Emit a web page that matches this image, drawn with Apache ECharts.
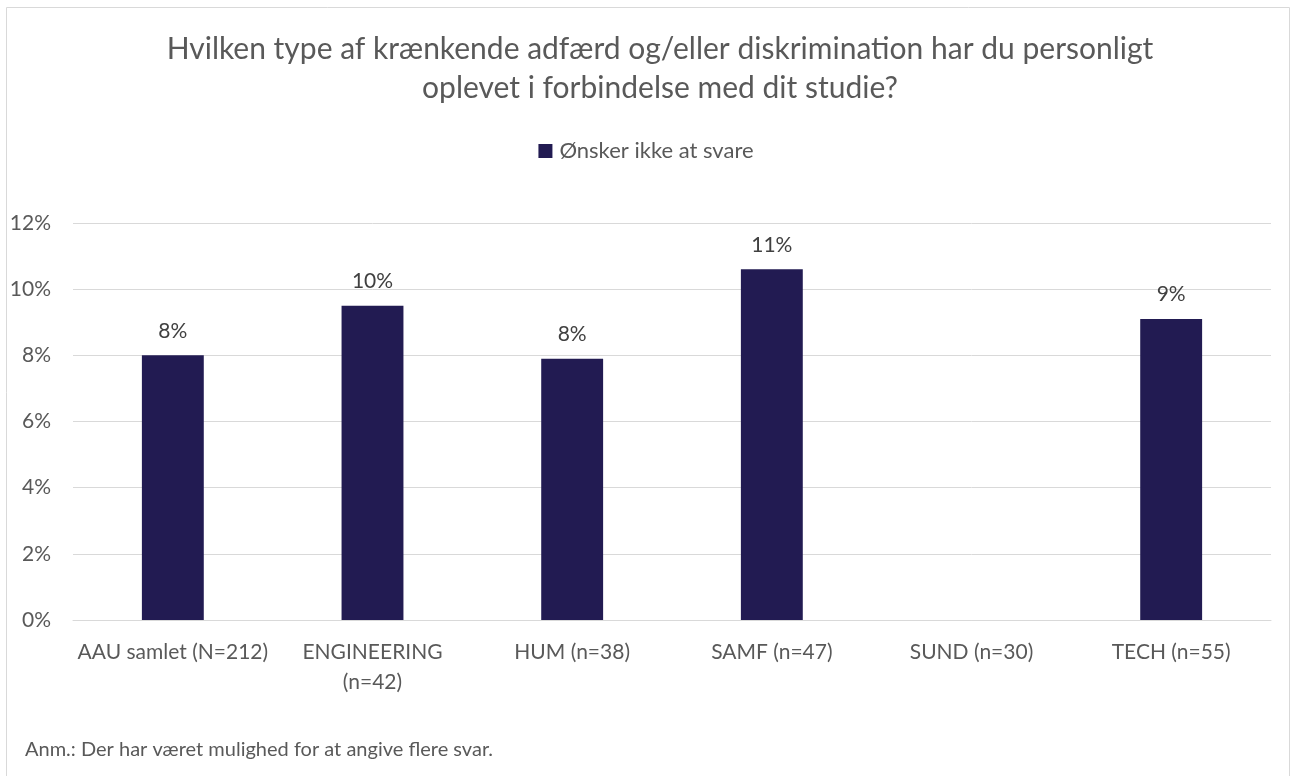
<!DOCTYPE html>
<html>
<head>
<meta charset="utf-8">
<script src="https://cdn.jsdelivr.net/npm/echarts@6/dist/echarts.min.js"></script>
<style>
  html, body { margin: 0; padding: 0; background: #fff; }
  #container { width: 1292px; height: 776px; }
</style>
</head>
<body>
<div id="container"></div>
<script>
// data
const categories = ['AAU samlet (N=212)', 'ENGINEERING\n(n=42)', 'HUM (n=38)', 'SAMF (n=47)', 'SUND (n=30)', 'TECH (n=55)'];
const seriesName = 'Ønsker ikke at svare';
const values = [8.0, 9.5, 7.9, 10.6, 0, 9.1]; // procent
const yTicks = [0, 2, 4, 6, 8, 10, 12];

const font = 'Lato, "Open Sans", sans-serif';
const grey = '#595959';

const dom = document.getElementById('container');
const myChart = echarts.init(dom);

const option = {
    animation: false,
    color: ['#221b52'],
    title: [
        {
            text: 'Hvilken type af krænkende adfærd og/eller diskrimination har du personligt\noplevet i forbindelse med dit studie?',
            left: 655,
            top: 25,
            textAlign: 'center',
            textStyle: { fontFamily: font, fontSize: 30, fontWeight: 'normal', color: grey, lineHeight: 39 }
        },
        {
            text: 'Anm.: Der har været mulighed for at angive flere svar.',
            left: 20,
            top: 735,
            textStyle: { fontFamily: font, fontSize: 20, fontWeight: 'normal', color: grey }
        }
    ],
    legend: {
        top: 135,
        left: 'center',
        itemWidth: 14,
        itemHeight: 14,
        itemGap: 4,
        icon: 'rect',
        textStyle: { fontFamily: font, fontSize: 22, color: grey, padding: [0, 0, 0, 2] }
    },
    grid: { left: 73, right: 21, top: 223, bottom: 156, containLabel: false },
    xAxis: {
        type: 'category',
        data: categories,
        axisTick: { show: false },
        axisLine: { lineStyle: { color: '#d9d9d9', width: 1 } },
        axisLabel: { interval: 0, margin: 17, fontFamily: font, fontSize: 21, color: grey, lineHeight: 30 }
    },
    yAxis: {
        type: 'value',
        min: yTicks[0],
        max: yTicks[yTicks.length - 1],
        interval: 2,
        axisLine: { show: false },
        axisTick: { show: false },
        splitLine: { lineStyle: { color: '#d9d9d9', width: 1 } },
        axisLabel: { formatter: '{value}%', margin: 22, fontFamily: font, fontSize: 21, color: grey }
    },
    series: [
        {
            name: seriesName,
            type: 'bar',
            data: values,
            barWidth: '31%',
            label: {
                show: true,
                position: 'top',
                distance: 14,
                fontFamily: font,
                fontSize: 21,
                color: '#404040',
                formatter: p => p.value ? Math.round(p.value) + '%' : ''
            }
        }
    ],
    graphic: [
        {
            type: 'rect',
            shape: { x: 6.5, y: 7.5, width: 1283, height: 780 },
            style: { fill: 'none', stroke: '#d9d9d9', lineWidth: 1 },
            silent: true
        }
    ]
};

myChart.setOption(option, true);
</script>
</body>
</html>
